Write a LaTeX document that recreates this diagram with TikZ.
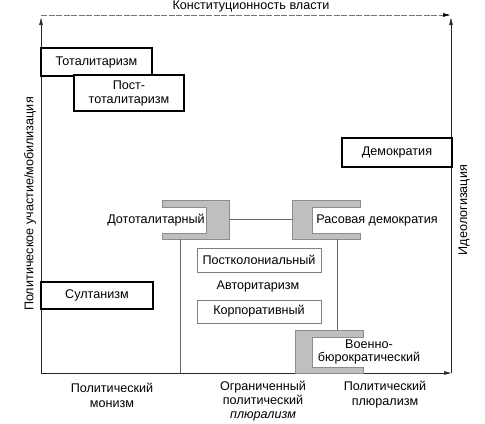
\documentclass[tikz,border=0pt]{standalone}
\usepackage{fontspec}
\setmainfont{Liberation Sans}
\usetikzlibrary{arrows.meta}
\begin{document}
\begin{tikzpicture}[x=1bp,y=-1bp,
  font=\fontsize{12.6bp}{14bp}\selectfont,
  axisl/.style={line width=0.6pt, black!85, -{Triangle[length=7bp,width=3.5bp]}},
  topl/.style={line width=0.5pt, black!55, dash pattern=on 6bp off 1.5bp, -{Triangle[length=7bp,width=3.5bp,black]}},
  blackbox/.style={draw, line width=1.1pt, inner sep=0, align=center},
  greybox/.style={draw=black!50, line width=0.5pt, inner sep=0, align=center},
  frame/.style={inner sep=0, outer sep=0},
  brk/.style={fill=black!25, draw=black!45, line width=0.4pt},
  thinl/.style={draw=black!60, line width=0.5pt},
  lbl/.style={inner sep=0, align=center}
]
\useasboundingbox (0,0) rectangle (485,423);

% axes
\coordinate (O) at (41,373);
\coordinate (YT) at (41,18);
\coordinate (XR) at (451,373);
\coordinate (RT) at (451,18);
\coordinate (TL) at (41,15);
\coordinate (TR) at (450,15);
\draw[axisl] (O) -- (YT);
\draw[axisl] (O) -- (XR);
\draw[axisl] (451,373) -- (RT);
\draw[topl] (TL) -- (TR);

% axis titles
\node[lbl] (ttl) at (251,6) {Конституционность власти};
\node[lbl, rotate=90] (ylab) at (30,204) {Политическое участие/мобилизация};
\node[lbl, rotate=90] (rlab) at (464,210) {Идеологизация};

% black boxes
\node[blackbox, minimum width=111bp, minimum height=28bp] (tot) at (96.5,62) {Тоталитаризм};
\node[blackbox, minimum width=110bp, minimum height=36bp, fill=white] (post) at (129,93) {Пост-\\тоталитаризм};
\node[blackbox, minimum width=110bp, minimum height=29bp] (dem) at (397,152.5) {Демократия};
\node[blackbox, minimum width=112bp, minimum height=27bp] (sult) at (97,295.5) {Султанизм};

% grey brackets
\node[frame, minimum width=67bp, minimum height=39bp] (dotoB) at (195.5,219.5) {};
\node[frame, minimum width=68bp, minimum height=39bp] (rasB) at (326,219.5) {};
\node[frame, minimum width=68bp, minimum height=43bp] (voenB) at (329,351.5) {};
\draw[brk] (dotoB.north west) -- (dotoB.north east) -- (dotoB.south east) -- (dotoB.south west)
  -- ++(0,-6) -- ++(44,0) -- ++(0,-26) -- ++(-44,0) -- cycle;
\draw[brk] (rasB.north east) -- (rasB.north west) -- (rasB.south west) -- (rasB.south east)
  -- ++(0,-6) -- ++(-48,0) -- ++(0,-26) -- ++(48,0) -- cycle;
\draw[brk] (voenB.north east) -- (voenB.north west) -- (voenB.south west) -- (voenB.south east)
  -- ++(0,-6) -- ++(-51,0) -- ++(0,-30) -- ++(51,0) -- cycle;

\node[lbl] (doto) at (156,220) {Дототалитарный};
\node[lbl] (ras) at (377,220) {Расовая демократия};
\node[lbl, font=\fontsize{12.6bp}{12.5bp}\selectfont] (voen) at (369,352) {Военно-\\бюрократический};

% connectors
\coordinate (v1) at (180,373);
\coordinate (v2) at (337,0);
\draw[thinl] (dotoB.east) -- (rasB.west);
\draw[thinl] (dotoB.south -| v1) -- (v1);
\draw[thinl] (rasB.south -| v2) -- (voenB.north -| v2);

% authoritarian group
\node[greybox, minimum width=124bp, minimum height=24bp] (postk) at (259,260) {Постколониальный};
\node[lbl] (avt) at (258,286) {Авторитаризм};
\node[greybox, minimum width=124bp, minimum height=23bp] (korp) at (259,311.5) {Корпоративный};

% bottom labels
\node[lbl, font=\fontsize{12.6bp}{15bp}\selectfont] (mon) at (112,395) {Политический\\монизм};
\node[lbl, font=\fontsize{12.6bp}{14bp}\selectfont] (ogr) at (263,401) {Ограниченный\\политический\\\textit{плюрализм}};
\node[lbl, font=\fontsize{12.6bp}{15bp}\selectfont] (plur) at (385,395) {Политический\\плюрализм};
\end{tikzpicture}
\end{document}
